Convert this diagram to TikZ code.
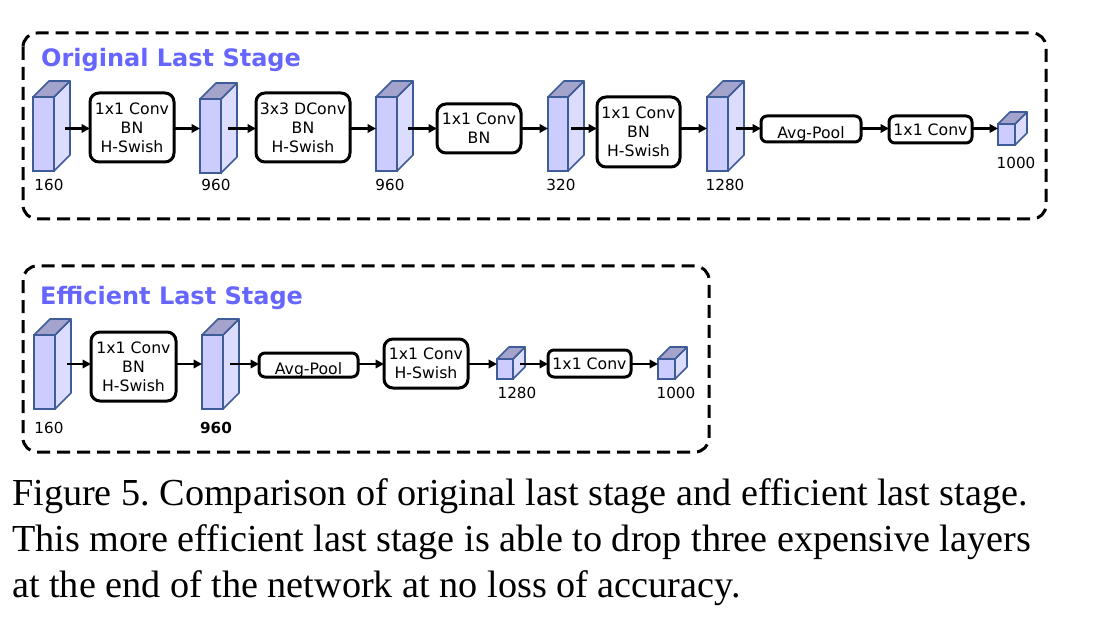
\documentclass[tikz,border=0pt]{standalone}
\usepackage{fontspec}
\setmainfont{Liberation Serif}
\newfontfamily\djv{DejaVu Sans}
\usetikzlibrary{arrows.meta}
\frenchspacing
\definecolor{cfront}{RGB}{204,204,255}
\definecolor{cside}{RGB}{220,220,255}
\definecolor{ctop}{RGB}{163,163,204}
\definecolor{cedge}{RGB}{62,92,152}
\definecolor{titlec}{RGB}{102,102,255}
\newcommand\cub[6]{%
  \filldraw[cubeedge, fill=cside] (#4,#5) -- (#4,#3) -- ({#4+#6},{#3-#6}) -- ({#4+#6},{#5-#6}) -- cycle;
  \filldraw[cubeedge, fill=ctop] (#2,#3) -- ({#2+#6},{#3-#6}) -- ({#4+#6},{#3-#6}) -- (#4,#3) -- cycle;
  \node[cubefront, minimum width=#4bp-#2bp, minimum height=#5bp-#3bp] (#1) at ({(#2+#4)/2},{(#3+#5)/2}) {};
}
\newcommand\bx[6]{%
  \node[box, minimum width=#4bp-#2bp, minimum height=#5bp-#3bp] (#1) at ({(#2+#4)/2},{(#3+#5)/2}) {#6};
}
\begin{document}
\begin{tikzpicture}[x=1bp,y=-1bp,
  cubeedge/.style={draw=cedge, line width=1.6bp, line join=round},
  cubefront/.style={draw=cedge, fill=cfront, line width=1.6bp, inner sep=0, outer sep=0},
  box/.style={draw, line width=3bp, rounded corners=9bp, inner sep=0, outer sep=0, align=center,
    font=\djv\fontsize{15.7bp}{19bp}\selectfont},
  sbox/.style={box, rounded corners=6bp},
  arr/.style={line width=2.6bp, -{Triangle[length=8.5bp,width=8.5bp]}},
  lbl/.style={inner sep=0, font=\djv\fontsize{15.2bp}{18bp}\selectfont},
  ttl/.style={anchor=base west, inner sep=0, text=titlec, font=\djv\bfseries\fontsize{24bp}{28bp}\selectfont},
  frame/.style={draw, line width=3bp, dash pattern=on 13bp off 7bp, rounded corners=14bp},
  captxt/.style={anchor=base west, inner sep=0, font=\fontsize{38.2bp}{46bp}\selectfont}]
\useasboundingbox (0,0) rectangle (1097,625);

% frames
\draw[frame] (23,33) rectangle (1046,219);
\draw[frame] (23,266) rectangle (709,452);

\node[ttl] (t1) at (41,67) {Original Last Stage};
\node[ttl] (t2) at (40,305) {Efficient Last Stage};

% ---- top row ----
\coordinate (r1) at (0,128.5);
\cub{c1}{33}{97}{54}{171}{16}
\cub{c2}{200}{99}{221}{173}{16}
\cub{c3}{376}{97}{397}{171}{16}
\cub{c4}{548}{97}{568}{171}{16}
\cub{c5}{707}{97}{728}{171}{16}
\cub{c6}{998}{124}{1015}{145}{12}
\node[lbl] (l1) at (49,185) {160};
\node[lbl] (l2) at (216,185) {960};
\node[lbl] (l3) at (390,185) {960};
\node[lbl] (l4) at (561,185) {320};
\node[lbl] (l5) at (725,185) {1280};
\node[lbl] (l6) at (1016,163) {1000};

\bx{b1}{90}{93}{174}{162}{1x1 Conv\\BN\\H-Swish}
\bx{b2}{256}{93}{350}{162}{3x3 DConv\\BN\\H-Swish}
\bx{b3}{437}{104}{521}{153}{1x1 Conv\\BN}
\bx{b4}{597}{97}{680}{167}{1x1 Conv\\BN\\H-Swish}
\node[sbox, minimum width=100bp, minimum height=26bp, text height=20bp, text depth=0bp] (b5) at (811,129) {Avg-Pool};
\node[sbox, minimum width=83bp, minimum height=27bp] (b6) at (930.5,129.5) {1x1 Conv};

\coordinate (o1) at (65,128.5);
\coordinate (o2) at (228,128.5);
\coordinate (o3) at (408,128.5);
\coordinate (o4) at (571,128.5);
\coordinate (o5) at (736,128.5);
\draw[arr] (o1) -- (o1 -| b1.west);
\draw[arr] (b1.east |- r1) -- (c2.west |- r1);
\draw[arr] (o2) -- (o2 -| b2.west);
\draw[arr] (b2.east |- r1) -- (c3.west |- r1);
\draw[arr] (o3) -- (o3 -| b3.west);
\draw[arr] (b3.east |- r1) -- (c4.west |- r1);
\draw[arr] (o4) -- (o4 -| b4.west);
\draw[arr] (b4.east |- r1) -- (c5.west |- r1);
\draw[arr] (o5) -- (o5 -| b5.west);
\draw[arr] (b5.east |- r1) -- (b6.west |- r1);
\draw[arr] (b6.east |- r1) -- (c6.west |- r1);

% ---- bottom row ----
\coordinate (r2) at (0,364);
\cub{d1}{34}{335}{55}{409}{16}
\cub{d2}{202}{335}{223}{409}{16}
\cub{d3}{497}{359}{513}{379}{12}
\cub{d4}{658}{359}{675}{379}{12}
\node[lbl] (m1) at (49,428) {160};
\node[lbl, font=\djv\bfseries\fontsize{15.2bp}{18bp}\selectfont] (m2) at (216,428) {960};
\node[lbl] (m3) at (517,393) {1280};
\node[lbl] (m4) at (676,393) {1000};

\bx{e1}{91}{332}{176}{401}{1x1 Conv\\BN\\H-Swish}
\node[sbox, minimum width=99bp, minimum height=24bp, text height=18bp, text depth=0bp] (e2) at (308.5,365) {Avg-Pool};
\bx{e3}{384}{339}{468}{388}{1x1 Conv\\H-Swish}
\node[sbox, minimum width=83bp, minimum height=27bp] (e4) at (589.5,363.5) {1x1 Conv};

\coordinate (p1) at (67,364);
\coordinate (p2) at (230,364);
\coordinate (p3) at (520,364);
\draw[arr] (p1) -- (p1 -| e1.west);
\draw[arr] (e1.east |- r2) -- (d2.west |- r2);
\draw[arr] (p2) -- (p2 -| e2.west);
\draw[arr] (e2.east |- r2) -- (e3.west |- r2);
\draw[arr] (e3.east |- r2) -- (d3.west |- r2);
\draw[arr] (p3) -- (p3 -| e4.west);
\draw[arr] (e4.east |- r2) -- (d4.west |- r2);

% ---- caption ----
\node[captxt] (k1) at (12,505) {Figure 5. Comparison of original last stage and efficient last stage.};
\node[captxt] (k2) at (12,551) {This more efficient last stage is able to drop three expensive layers};
\node[captxt] (k3) at (12,597) {at the end of the network at no loss of accuracy.};
\end{tikzpicture}
\end{document}
